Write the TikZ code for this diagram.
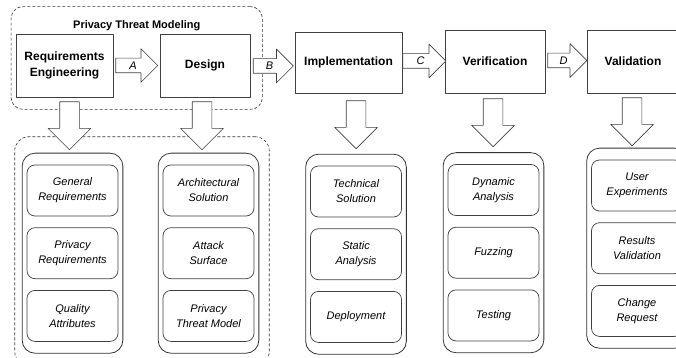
\documentclass[tikz,border=0pt]{standalone}
\usepackage{fontspec}
\setmainfont{Liberation Sans}
\usepackage{tikz}
\usetikzlibrary{positioning, shapes.arrows, fit, calc}

\begin{document}
\begin{tikzpicture}[
    x=1pt, y=-1pt,
    line join=round,
    stage/.style={draw=black!75, line width=0.8pt, align=center,
        font=\fontsize{12}{16}\selectfont\bfseries, inner sep=0pt},
    item/.style={draw=black!75, line width=0.7pt, rounded corners=8pt, align=center,
        minimum width=91pt, minimum height=51pt, inner sep=0pt,
        font=\fontsize{11}{15}\selectfont\itshape},
    panel/.style={draw=black!80, line width=0.8pt, rounded corners=13pt,
        inner xsep=4.5pt, inner ysep=11.5pt},
    group box/.style={draw=black!80, line width=0.6pt, dash pattern=on 3pt off 2pt,
        rounded corners=12pt},
    flow arrow/.style={single arrow, draw=black!75, fill=white, line width=0.7pt,
        single arrow head extend=9.5pt, anchor=tail, inner xsep=2pt, inner ysep=3pt,
        text height=8pt, text depth=0pt, font=\fontsize{11}{13}\selectfont\itshape},
    down arrow/.style={single arrow, draw=black!75, fill=white, line width=0.7pt,
        rotate=-90, anchor=tail, single arrow head extend=11.5pt,
        minimum height=48pt, inner xsep=0pt, inner ysep=9.5pt,
        text height=0pt, text depth=0pt}
]
    \useasboundingbox (0,0) rectangle (676,358);
    \clip (0,0) rectangle (676,358);

    % --- PHASES ---
    \node[stage, minimum width=97pt, minimum height=63pt] (req) at (64.5,65.5) {Requirements\\Engineering};
    \node[stage, minimum width=90pt, minimum height=63pt] (des) at (205,65.5) {Design};
    \node[stage, minimum width=107pt, minimum height=61pt] (imp) at (348.5,62.5) {Implementation};
    \node[stage, minimum width=100pt, minimum height=63pt] (ver) at (495,61.5) {Verification};
    \node[stage, minimum width=92pt, minimum height=63pt] (val) at (633,61.5) {Validation};

    % --- ACTIVITIES ---
    % Requirements Engineering
    \node[item] (genreq) at (72.5,190.5) {General\\Requirements};
    \node[item, below=11pt of genreq] (privreq) {Privacy\\Requirements};
    \node[item, below=11pt of privreq] (qual) {Quality\\Attributes};
    % Design
    \node[item] (arch) at (208.5,190.5) {Architectural\\Solution};
    \node[item, below=11pt of arch] (attack) {Attack\\Surface};
    \node[item, below=11pt of attack] (ptmodel) {Privacy\\Threat Model};
    % Implementation
    \node[item] (techsol) at (356,191.5) {Technical\\Solution};
    \node[item, below=11pt of techsol] (static) {Static\\Analysis};
    \node[item, below=11pt of static] (deploy) {Deployment};
    % Verification
    \node[item] (dyn) at (493.5,190) {Dynamic\\Analysis};
    \node[item, below=11pt of dyn] (fuzz) {Fuzzing};
    \node[item, below=11pt of fuzz] (test) {Testing};
    % Validation
    \node[item] (userexp) at (637,185.5) {User\\Experiments};
    \node[item, below=11pt of userexp] (resval) {Results\\Validation};
    \node[item, below=11pt of resval] (change) {Change\\Request};

    % Panels round each column
    \node[panel, fit=(genreq)(qual)] (reqp) {};
    \node[panel, fit=(arch)(ptmodel)] (desp) {};
    \node[panel, fit=(techsol)(deploy)] (impp) {};
    \node[panel, fit=(dyn)(test)] (verp) {};
    \node[panel, fit=(userexp)(change)] (valp) {};

    % --- PRIVACY THREAT MODELING GROUP ---
    \node[group box, inner sep=0pt, fit={($(req.north west)+(-4.5,-27)$) ($(des.south east)+(12,12)$)}] (ptm) {};
    \node[font=\fontsize{11}{13}\selectfont\bfseries] (ptmtitle) at ($(ptm.north)+(0,19.5)$) {Privacy Threat Modeling};
    \node[group box, rounded corners=14pt, inner sep=0pt, fit={($(reqp.north west)+(-7,-16)$) ($(desp.south east)+(10,12)$)}] (ptmlow) {};

    % --- FLOW ARROWS ---
    \node[flow arrow, minimum height=42pt] (arA) at ($(req.east)+(2,0)$) {A};
    \node[flow arrow, minimum height=40pt] (arB) at ($(des.east)+(2.5,0.5)$) {B};
    \node[flow arrow, minimum height=43pt] (arC) at ($(imp.east)+(0,-1.5)$) {C};
    \node[flow arrow, minimum height=39pt] (arD) at ($(ver.east)+(2,-1)$) {D};

    % Phase to activities
    \node[down arrow] (dreq) at ($(req.south)+(5,4)$) {};
    \node[down arrow] (ddes) at ($(des.south)+(-3,4)$) {};
    \node[down arrow] (dimp) at ($(imp.south)+(7.5,7)$) {};
    \node[down arrow] (dver) at ($(ver.south)+(-2,5)$) {};
    \node[down arrow] (dval) at ($(val.south)+(-1,4)$) {};

\end{tikzpicture}
\end{document}
